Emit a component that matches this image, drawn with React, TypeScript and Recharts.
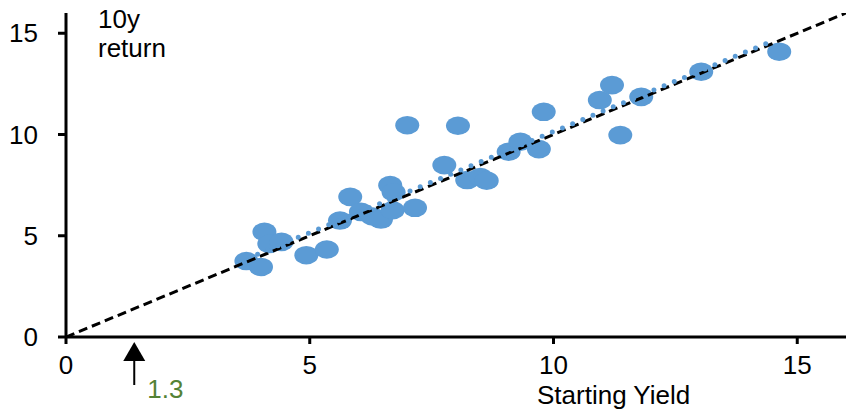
import React from "react";
import {
  ScatterChart,
  Scatter,
  XAxis,
  YAxis,
  ReferenceDot,
  Label,
} from "recharts";

// starting yield (x) vs following 10y return (y)
const yields = [
  3.7, 4.0, 4.07, 4.17, 4.42, 4.93, 5.35, 5.62, 5.83, 6.05, 6.29, 6.46, 6.65,
  6.72, 6.7, 7.16, 7.0, 8.04, 7.76, 8.23, 8.5, 8.63, 9.08, 9.32, 9.7, 9.8,
  10.95, 11.2, 11.8, 11.37, 13.03, 14.63,
];
const returns = [
  3.75, 3.46, 5.19, 4.6, 4.7, 4.04, 4.32, 5.75, 6.92, 6.18, 5.95, 5.8, 7.5,
  7.15, 6.26, 6.38, 10.46, 10.43, 8.49, 7.75, 7.9, 7.72, 9.15, 9.64, 9.28,
  11.12, 11.7, 12.44, 11.86, 9.97, 13.1, 14.09,
];

// y = x reference and the fitted trend (end points)
const diagX = [0, 16];
const diagY = [0, 16];
const trendX = [3.93, 14.49];
const trendY = [4.09, 14.62];

const axisTicks = [0, 5, 10, 15];
const arrowAt = 1.4;
const arrowLabel = "1.3";

const BLUE = "#5B9BD5";
const GREEN = "#548235";
const FONT = "'Liberation Sans', Arial, sans-serif";
const FS = 26;

const points = yields.map((x, i) => ({ x, y: returns[i] }));
const diag = diagX.map((x, i) => ({ x, y: diagY[i] }));
const trend = trendX.map((x, i) => ({ x, y: trendY[i] }));

const Ellipse = (props: any) => (
  <ellipse cx={props.cx} cy={props.cy} rx={12} ry={9.3} fill={BLUE} />
);
const NoDot = () => <g />;

const Arrow = (props: any) => {
  const { cx, cy } = props;
  return (
    <g>
      <polygon
        points={`${cx},${cy + 5} ${cx - 11},${cy + 24} ${cx + 11},${cy + 24}`}
        fill="#000"
      />
      <line x1={cx} y1={cy + 22} x2={cx} y2={cy + 48} stroke="#000" strokeWidth={2} />
      <text x={cx + 13} y={cy + 61} fill={GREEN} fontSize={FS} fontFamily={FONT}>
        {arrowLabel}
      </text>
    </g>
  );
};

const YTitle = (props: any) => {
  const { x, y, width } = props.viewBox;
  return (
    <text x={x + width + 32} y={y + 15} fontSize={FS} fill="#000" fontFamily={FONT}>
      <tspan x={x + width + 32} dy={0}>10y</tspan>
      <tspan x={x + width + 32} dy={29}>return</tspan>
    </text>
  );
};

const XTitle = (props: any) => {
  const { x, y } = props.viewBox;
  return (
    <text x={x + 471} y={y + 67} fontSize={FS} fill="#000" fontFamily={FONT}>
      Starting Yield
    </text>
  );
};

export default function App() {
  return (
    <div style={{ position: "absolute", left: 0, top: 0, background: "#fff" }}>
      <ScatterChart
        width={846}
        height={411}
        margin={{ top: 13, right: 0, left: 0, bottom: 0 }}
        style={{ fontFamily: FONT }}
      >
        <XAxis
          type="number"
          dataKey="x"
          domain={[0, 16]}
          ticks={axisTicks}
          allowDataOverflow
          height={74}
          axisLine={{ stroke: "#000", strokeWidth: 3 }}
          tickLine={{ stroke: "#000", strokeWidth: 3 }}
          tickSize={7}
          tickMargin={12}
          tick={{ fill: "#000", fontSize: FS }}
        >
          <Label content={XTitle} />
        </XAxis>
        <YAxis
          type="number"
          dataKey="y"
          domain={[0, 16]}
          ticks={axisTicks}
          allowDataOverflow
          width={66}
          axisLine={{ stroke: "#000", strokeWidth: 3 }}
          tickLine={{ stroke: "#000", strokeWidth: 3 }}
          tickSize={8}
          tickMargin={20}
          tick={{ fill: "#000", fontSize: FS }}
        >
          <Label content={YTitle} />
        </YAxis>
        <Scatter data={points} shape={Ellipse} isAnimationActive={false} />
        <Scatter
          data={diag}
          shape={NoDot}
          line={{ stroke: "#000", strokeWidth: 3, strokeDasharray: "9 5" }}
          isAnimationActive={false}
        />
        <Scatter
          data={trend}
          shape={NoDot}
          line={{
            stroke: BLUE,
            strokeWidth: 5,
            strokeDasharray: "0 11",
            strokeLinecap: "round",
          }}
          isAnimationActive={false}
        />
        <ReferenceDot x={arrowAt} y={0} shape={Arrow} />
      </ScatterChart>
    </div>
  );
}
